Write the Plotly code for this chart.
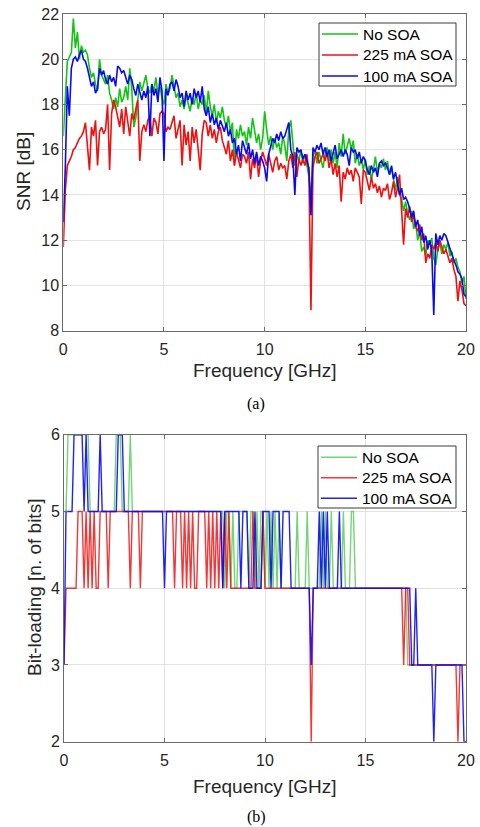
import numpy as np
import plotly.graph_objects as go

# ---------------- data ----------------
freq_ghz = np.round(np.arange(201) * 0.1, 1)   # subcarrier frequency grid, 0..20 GHz

series_names = ["No SOA", "225 mA SOA", "100 mA SOA"]

snr_no_soa = [
    16.6, 18.6, 19.9, 20.1, 20.3, 21.8, 20.5, 21.2, 20.0, 20.6,
    20.3, 20.4, 20.2, 19.6, 19.2, 19.4, 18.9, 18.6, 20.0, 19.3,
    19.1, 18.9, 19.3, 18.5, 18.2, 17.8, 18.3, 17.9, 18.7, 18.1,
    18.3, 18.8, 18.2, 19.6, 18.7, 17.0, 17.4, 18.3, 19.0, 18.6,
    18.9, 19.3, 18.7, 18.5, 18.9, 18.6, 19.2, 18.4, 18.8, 18.3,
    18.0, 18.9, 18.5, 18.7, 19.3, 18.8, 18.3, 18.5, 17.9, 18.2,
    17.8, 18.4, 18.1, 17.7, 18.3, 18.0, 18.5, 17.8, 18.2, 18.0,
    18.4, 17.6, 18.6, 17.9, 17.5, 18.0, 17.2, 17.7, 17.4, 17.9,
    17.3, 17.0, 17.5, 16.8, 17.2, 15.3, 16.9, 16.5, 17.1, 16.6,
    16.8, 16.2, 17.0, 16.5, 17.4, 16.8, 16.3, 16.7, 16.0, 16.5,
    17.7, 16.9, 16.2, 16.6, 16.0, 16.5, 16.1, 16.3, 15.8, 16.6,
    16.2, 15.5, 16.9, 17.3, 16.2, 15.3, 15.8, 15.5, 16.0, 15.4,
    15.8, 15.3, 14.8, 13.8, 15.7, 16.0, 15.4, 15.9, 15.6, 15.2,
    15.8, 16.1, 15.5, 16.0, 15.4, 15.9, 15.2, 16.3, 15.7, 16.7,
    15.8, 16.2, 16.5, 16.0, 16.4, 15.4, 15.8, 15.3, 15.6, 15.1,
    15.6, 14.9, 15.3, 14.7, 15.1, 15.7, 15.0, 15.4, 15.2, 15.6,
    15.1, 15.5, 14.9, 15.2, 14.6, 14.2, 14.8, 14.0, 13.8, 13.3,
    13.7, 13.2, 12.9, 13.3, 12.5, 12.8, 12.0, 12.4, 11.5, 11.7,
    11.3, 12.0, 11.8, 12.1, 11.2, 10.9, 11.6, 11.9, 11.4, 11.8,
    11.6, 11.9, 11.3, 11.5, 11.0, 11.2, 10.8, 10.6, 10.1, 10.4,
    9.4,
]

snr_225ma = [
    11.7, 14.2, 15.3, 15.5, 15.7, 16.0, 16.1, 16.3, 16.5, 16.6,
    16.8, 17.2, 16.0, 15.1, 17.0, 16.6, 17.3, 15.3, 16.8, 17.0,
    16.7, 16.9, 18.0, 15.1, 17.6, 18.2, 17.9, 17.4, 17.0, 17.8,
    16.7, 17.9, 17.2, 16.6, 17.6, 17.3, 17.8, 18.2, 15.5, 16.8,
    17.1, 16.8, 17.3, 17.5, 16.6, 17.4, 17.2, 16.7, 17.6, 17.7,
    17.6, 16.8, 17.0, 16.9, 17.2, 17.5, 16.5, 16.9, 17.3, 15.3,
    17.1, 16.2, 16.8, 15.5, 17.0, 16.3, 16.9, 16.0, 15.1, 16.7,
    17.3, 17.2, 16.6, 17.1, 16.5, 16.9, 16.3, 16.8, 17.0, 16.4,
    16.1, 15.8, 16.4, 15.5, 16.0, 15.3, 15.9, 15.6, 15.2, 15.8,
    15.7, 15.4, 15.9, 14.7, 15.6, 15.2, 15.8, 14.8, 15.5, 15.9,
    15.6, 15.3, 15.8, 15.4, 15.0, 15.5, 15.7, 15.1, 15.4, 15.2,
    15.3, 14.7, 15.5, 15.8, 15.2, 15.9, 14.8, 15.6, 15.3, 15.6,
    15.3, 15.8, 14.9, 8.9, 15.2, 15.7, 15.9, 15.4, 15.6, 15.8,
    15.5, 15.9, 15.2, 15.6, 14.9, 15.4, 14.8, 15.3, 13.7, 15.0,
    14.7, 15.2, 14.9, 15.1, 14.6, 15.2, 15.0, 14.8, 13.6, 15.1,
    15.0, 14.6, 14.2, 14.8, 14.3, 14.5, 14.1, 14.4, 13.9, 14.3,
    14.2, 14.5, 13.8, 14.1, 14.6, 13.9, 14.3, 14.9, 13.5, 11.8,
    13.4, 13.0, 13.5, 12.8, 13.1, 12.6, 12.4, 12.7, 12.0, 12.3,
    11.0, 11.4, 11.2, 11.8, 11.6, 11.9, 11.5, 12.0, 11.7, 11.4,
    11.6, 11.3, 11.0, 11.2, 10.7, 10.4, 9.3, 10.2, 9.8, 9.2,
    9.1,
]

snr_100ma = [
    12.8, 15.2, 18.8, 17.5, 19.6, 20.0, 20.1, 19.9, 20.2, 20.4,
    20.0, 19.9, 19.6, 19.2, 18.8, 19.0, 18.5, 18.7, 19.6, 19.3,
    19.5, 19.1, 18.9, 19.3, 19.0, 19.2, 18.8, 19.7, 19.6, 19.4,
    19.5, 19.2, 18.9, 19.3, 19.1, 18.7, 18.4, 18.9, 18.5, 18.2,
    18.6, 18.3, 18.8, 16.6, 18.9, 18.4, 18.7, 18.1, 19.2, 18.6,
    15.5, 18.7, 18.4, 18.9, 19.0, 18.6, 19.1, 18.8, 18.3, 18.5,
    17.9, 18.6, 18.2, 18.5, 18.0, 18.7, 18.3, 18.6, 18.1, 18.8,
    17.8, 17.5, 17.9, 17.2, 17.6, 17.1, 17.4, 16.9, 17.3, 17.0,
    16.8, 17.2, 16.6, 16.9, 16.3, 16.5, 15.8, 16.2, 15.5, 16.4,
    16.1, 15.8, 16.3, 15.6, 16.0, 15.4, 15.9, 15.3, 15.7, 15.5,
    15.2, 14.6, 15.8, 16.1, 16.5, 16.3, 16.7, 16.4, 16.8, 16.5,
    16.6, 16.9, 17.2, 16.0, 15.7, 14.0, 16.1, 15.9, 16.0, 15.6,
    15.8, 15.5, 15.2, 13.1, 16.1, 15.9, 16.2, 16.0, 16.3, 15.8,
    16.1, 15.7, 16.0, 15.5, 15.9, 16.2, 15.6, 15.8, 16.0, 15.7,
    16.0, 15.8, 15.3, 16.1, 15.9, 16.0, 15.6, 15.9, 15.4, 15.7,
    15.5, 15.1, 14.9, 15.3, 15.0, 15.2, 14.8, 15.4, 15.5, 15.3,
    15.4, 15.2, 14.9, 15.3, 14.7, 15.0, 14.5, 14.0, 14.3, 13.8,
    13.9, 13.7, 13.4, 13.0, 13.3, 12.6, 12.9, 12.2, 12.6, 11.9,
    12.2, 11.6, 12.0, 11.5, 8.7, 12.3, 11.8, 12.2, 12.0, 12.3,
    12.2, 11.9, 11.7, 11.4, 11.1, 10.9, 10.6, 10.5, 10.3, 9.6,
    9.5,
]

bits_no_soa = [
    5, 5, 6, 6, 6, 6, 6, 6, 6, 6,
    6, 6, 6, 5, 5, 5, 5, 5, 5, 5,
    5, 5, 5, 5, 5, 5, 6, 6, 6, 5,
    5, 5, 5, 6, 5, 5, 5, 5, 5, 5,
    5, 5, 5, 5, 5, 5, 5, 5, 5, 5,
    5, 5, 5, 5, 5, 5, 5, 5, 5, 5,
    5, 5, 5, 5, 5, 5, 5, 5, 5, 5,
    5, 5, 5, 5, 5, 5, 5, 5, 5, 5,
    4, 5, 5, 4, 5, 4, 4, 5, 5, 5,
    5, 5, 4, 5, 5, 4, 5, 4, 5, 5,
    4, 5, 4, 5, 4, 5, 4, 5, 4, 4,
    4, 4, 4, 4, 4, 4, 5, 4, 4, 4,
    4, 5, 4, 4, 4, 4, 4, 4, 5, 4,
    5, 4, 4, 5, 4, 4, 4, 4, 4, 5,
    4, 4, 4, 5, 5, 4, 4, 4, 4, 4,
    4, 4, 4, 4, 4, 4, 4, 4, 4, 4,
    4, 4, 4, 4, 4, 4, 4, 4, 4, 4,
    4, 3, 3, 3, 3, 3, 3, 3, 3, 3,
    3, 3, 3, 3, 3, 3, 3, 3, 3, 3,
    3, 3, 3, 3, 3, 3, 3, 3, 3, 3,
    3,
]

bits_225ma = [
    3, 4, 4, 4, 4, 4, 4, 5, 5, 5,
    4, 5, 4, 5, 4, 5, 4, 4, 5, 5,
    5, 5, 4, 5, 5, 5, 5, 5, 5, 5,
    5, 5, 5, 4, 5, 5, 5, 5, 4, 5,
    5, 5, 5, 5, 5, 5, 5, 5, 5, 5,
    5, 5, 5, 5, 5, 4, 5, 5, 5, 4,
    5, 4, 5, 4, 5, 4, 4, 5, 5, 5,
    5, 4, 5, 4, 5, 4, 5, 4, 5, 4,
    5, 4, 5, 4, 4, 4, 4, 4, 4, 4,
    4, 4, 4, 4, 5, 4, 4, 4, 4, 5,
    4, 4, 4, 4, 4, 4, 4, 4, 4, 4,
    4, 4, 4, 4, 4, 4, 4, 4, 4, 4,
    4, 4, 4, 2, 4, 4, 4, 4, 4, 4,
    4, 4, 4, 4, 4, 4, 4, 4, 4, 4,
    4, 4, 4, 4, 4, 4, 4, 4, 4, 4,
    4, 4, 4, 4, 4, 4, 4, 4, 4, 4,
    4, 4, 4, 4, 4, 4, 4, 4, 4, 3,
    4, 4, 3, 3, 3, 3, 3, 3, 3, 3,
    3, 3, 3, 3, 3, 3, 3, 3, 3, 3,
    3, 3, 3, 3, 3, 3, 2, 3, 3, 3,
    3,
]

bits_100ma = [
    3, 5, 5, 5, 5, 6, 6, 6, 6, 6,
    5, 6, 5, 5, 5, 5, 5, 5, 6, 5,
    5, 5, 5, 5, 5, 5, 5, 6, 6, 6,
    5, 5, 5, 5, 5, 5, 5, 5, 5, 5,
    5, 5, 5, 5, 5, 5, 5, 5, 5, 5,
    4, 5, 5, 5, 5, 5, 5, 5, 5, 5,
    5, 5, 5, 5, 5, 5, 5, 5, 5, 5,
    5, 5, 5, 5, 5, 5, 5, 5, 5, 4,
    5, 5, 5, 5, 5, 5, 5, 5, 4, 5,
    5, 5, 4, 4, 4, 5, 4, 4, 4, 5,
    5, 5, 5, 4, 5, 5, 5, 5, 4, 5,
    5, 5, 5, 4, 4, 4, 4, 4, 4, 4,
    4, 4, 4, 3, 4, 4, 4, 5, 4, 5,
    4, 5, 4, 4, 4, 4, 4, 5, 4, 4,
    4, 4, 4, 4, 4, 4, 4, 4, 4, 4,
    4, 4, 4, 4, 4, 4, 4, 4, 4, 4,
    4, 4, 4, 4, 4, 4, 4, 4, 4, 4,
    4, 4, 4, 3, 3, 4, 3, 3, 3, 3,
    3, 3, 3, 3, 2, 3, 3, 3, 3, 3,
    3, 3, 3, 3, 3, 3, 3, 3, 3, 2,
    2,
]

x_ticks = [0, 5, 10, 15, 20]
snr_ticks = [8, 10, 12, 14, 16, 18, 20, 22]
bit_ticks = [2, 3, 4, 5, 6]

# ---------------- styling ----------------
W, H = 480, 827
top_colors = ["#14c414", "#f01010", "#0a0af0"]
bot_colors = ["rgba(40,190,40,0.65)", "rgba(240,20,20,0.85)", "rgba(10,10,245,0.9)"]
SANS = "Liberation Sans, Arial, sans-serif"
SERIF = "Liberation Serif, Times New Roman, serif"
TXT = "#262626"

def px_x(p):
    return p / W

def px_y(p):
    return 1 - p / H

fig = go.Figure()
for name, ys, c in zip(series_names, [snr_no_soa, snr_225ma, snr_100ma], top_colors):
    fig.add_trace(go.Scatter(x=freq_ghz, y=ys, mode="lines", name=name,
                             line=dict(color=c, width=1.6),
                             xaxis="x", yaxis="y", showlegend=False))
for name, ys, c in zip(series_names, [bits_no_soa, bits_225ma, bits_100ma], bot_colors):
    fig.add_trace(go.Scatter(x=freq_ghz, y=ys, mode="lines", name=name,
                             line=dict(color=c, width=1.4),
                             xaxis="x2", yaxis="y2", showlegend=False))

axis_common = dict(showgrid=True, gridcolor="#e2e2e2", gridwidth=1,
                   showline=True, linecolor="#6a6a6a", linewidth=1,
                   mirror="ticks", ticks="inside", ticklen=4, tickcolor="#6a6a6a",
                   tickfont=dict(family=SANS, size=16, color=TXT), zeroline=False)

fig.update_layout(
    width=W, height=H, margin=dict(l=0, r=0, t=0, b=0, pad=0, autoexpand=False),
    paper_bgcolor="white", plot_bgcolor="white", showlegend=False,
    xaxis=dict(domain=[px_x(63.3), px_x(466)], range=[0, 20], tickvals=x_ticks,
               anchor="y", ticklabelstandoff=4, **axis_common),
    yaxis=dict(domain=[px_y(330.7), px_y(14)], range=[8, 22], tickvals=snr_ticks,
               anchor="x", **axis_common),
    xaxis2=dict(domain=[px_x(64), px_x(466)], range=[0, 20], tickvals=x_ticks,
                anchor="y2", ticklabelstandoff=4, **axis_common),
    yaxis2=dict(domain=[px_y(741.7), px_y(434.7)], range=[2, 6], tickvals=bit_ticks,
                anchor="x2", **axis_common),
)

def label(text, x, y, size=19, angle=0, family=SANS, color=TXT, xanchor="center"):
    fig.add_annotation(text=text, x=px_x(x), y=px_y(y), xref="paper", yref="paper",
                       xanchor=xanchor, yanchor="middle", showarrow=False,
                       textangle=angle, font=dict(family=family, size=size, color=color))

label("SNR [dB]", 23, 172, angle=-90)
label("Frequency [GHz]", 265, 370)
label("(a)", 256, 404, size=16, family=SERIF, color="black")
label("Bit-loading [n. of bits]", 34, 588, angle=-90)
label("Frequency [GHz]", 265, 786)
label("(b)", 256, 817, size=16, family=SERIF, color="black")

# legends (drawn as decoration boxes with sample lines and labels)
def legend_box(x0, y0, x1, y1, rows, colors):
    fig.add_shape(type="rect", xref="paper", yref="paper",
                  x0=px_x(x0), x1=px_x(x1), y0=px_y(y1), y1=px_y(y0),
                  line=dict(color="#3a3a3a", width=1), fillcolor="white", layer="above")
    for ry, name, c in zip(rows, series_names, colors):
        fig.add_shape(type="line", xref="paper", yref="paper",
                      x0=px_x(x0 + 3), x1=px_x(x0 + 39), y0=px_y(ry), y1=px_y(ry),
                      line=dict(color=c, width=1.6), layer="above")
        label(name, x0 + 42, ry, size=15.5, color="black", xanchor="left")

legend_box(319, 23, 456, 86, [34, 55, 76], top_colors)
legend_box(318, 446, 456, 508, [457.3, 477.7, 498.3], bot_colors)

fig.write_html("out.html")
